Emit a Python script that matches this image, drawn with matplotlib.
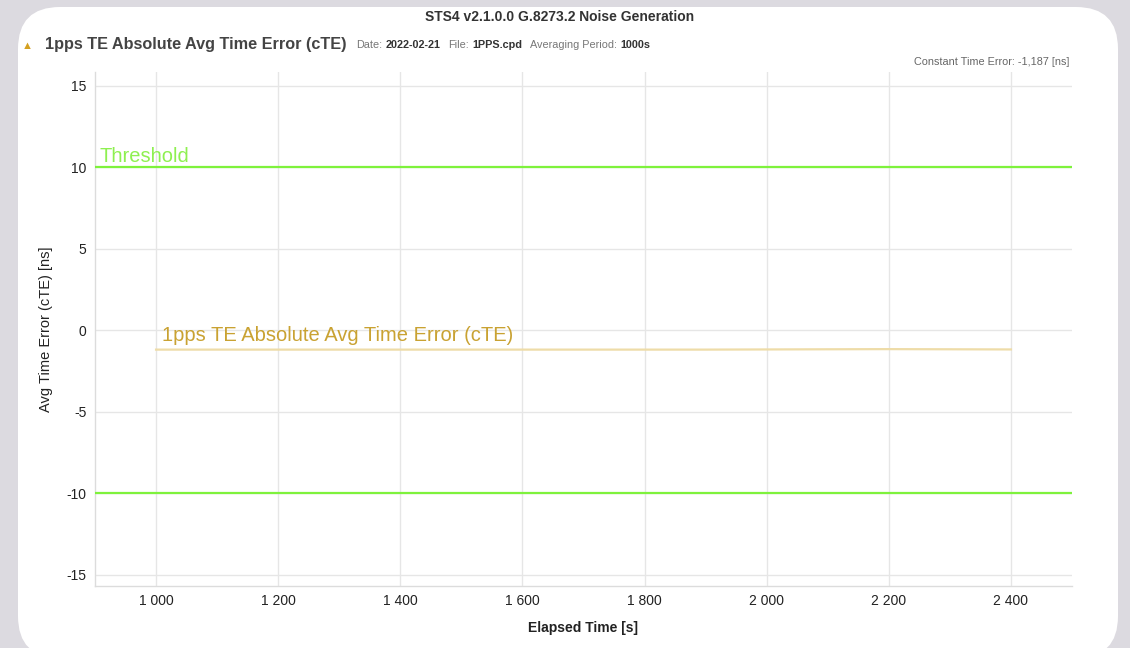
import matplotlib
matplotlib.use("Agg")
import matplotlib.pyplot as plt
from matplotlib.patches import FancyBboxPatch
from matplotlib.ticker import FuncFormatter

plt.rcParams["font.family"] = ["Liberation Sans", "DejaVu Sans"]
plt.rcParams["axes.unicode_minus"] = False

# Averaged time error series (elapsed seconds, ns)
elapsed_s = [1000, 1100, 1200, 1300, 1400, 1500, 1600, 1700, 1800, 1900,
             2000, 2100, 2200, 2300, 2400]
avg_te_ns = [-1.19, -1.19, -1.19, -1.19, -1.19, -1.19, -1.19, -1.19, -1.19,
             -1.19, -1.18, -1.17, -1.16, -1.17, -1.18]
threshold_ns = [10, -10]

chart_title = "STS4 v2.1.0.0 G.8273.2 Noise Generation"
series_name = "1pps TE Absolute Avg Time Error (cTE)"
info_items = [("Date:", "2022-02-21"), ("File:", "1PPS.cpd"),
              ("Averaging Period:", "1000s")]
constant_te = "Constant Time Error: -1,187 [ns]"
x_ticks = [1000, 1200, 1400, 1600, 1800, 2000, 2200, 2400]
y_ticks = [-15, -10, -5, 0, 5, 10, 15]

W, H = 1130, 648
fig = plt.figure(figsize=(W / 100, H / 100), dpi=100)
fig.patch.set_facecolor("#dcdae0")

# white rounded card behind the chart
card = FancyBboxPatch((0.18, -0.10), 11.0, 6.51,
                      boxstyle="round,pad=0,rounding_size=0.42",
                      transform=fig.dpi_scale_trans, facecolor="white",
                      edgecolor="none", zorder=-5)
fig.patches.append(card)

def fx(px):
    return px / W

def fy(py):
    return 1 - py / H

ax = fig.add_axes([fx(95), fy(586), fx(1072) - fx(95), fy(72) - fy(586)])
ax.set_zorder(2)
ax.set_facecolor("none")
ax.set_xlim(900, 2500)
ax.set_ylim(-15.7, 15.85)

ax.set_xticks(x_ticks)
ax.set_yticks(y_ticks)
ax.xaxis.set_major_formatter(FuncFormatter(lambda v, p: f"{int(v):,}".replace(",", " ")))
ax.grid(True, color="#e6e6e6", linewidth=1.0)
ax.set_axisbelow(True)
for s in ["top", "right"]:
    ax.spines[s].set_visible(False)
for s in ["left", "bottom"]:
    ax.spines[s].set_color("#dcdcdc")
    ax.spines[s].set_linewidth(1.0)
ax.tick_params(axis="both", length=0, labelsize=10, colors="#222222")
ax.tick_params(axis="x", pad=6)
ax.tick_params(axis="y", pad=6)

# threshold limits
for t in threshold_ns:
    ax.axhline(t, color="#7ef23c", linewidth=1.6, zorder=3)
ax.annotate("Threshold", xy=(900, threshold_ns[0]), xytext=(3, 1),
            textcoords="offset points", va="bottom", ha="left",
            fontsize=14.5, color="#8ef050", zorder=4)

# averaged time error trace
ax.plot(elapsed_s, avg_te_ns, color="#eedca8", linewidth=1.6, zorder=4)
ax.annotate(series_name, xy=(elapsed_s[0], avg_te_ns[0]), xytext=(4, 3),
            textcoords="offset points", va="bottom", ha="left",
            fontsize=14.5, color="#c9a232", zorder=5)

ax.set_ylabel("Avg Time Error (cTE) [ns]", fontsize=10.5, color="#222222", labelpad=10)
ax.set_xlabel("Elapsed Time [s]", fontsize=10, color="#222222",
              fontweight="bold", labelpad=9)

# header texts
fig.text(fx(560), fy(17), chart_title, ha="center", va="center",
         fontsize=10, fontweight="bold", color="#333333")
fig.text(fx(22), fy(46), "\u25b2", ha="left", va="center", fontsize=8,
         color="#d4a020")
head = fig.text(fx(45), fy(45), series_name, ha="left", va="center",
                fontsize=11.7, fontweight="bold", color="#444444")
prev = head
first = True
for label, value in info_items:
    a = ax.annotate(label, xy=(1, 0.5), xycoords=prev,
                    xytext=(7 if first else 5.5, 0), textcoords="offset points",
                    va="center", ha="left", fontsize=7.8, color="#777777",
                    annotation_clip=False)
    first = False
    b = ax.annotate(value, xy=(1, 0.5), xycoords=a, xytext=(2.5, 0),
                    textcoords="offset points", va="center", ha="left",
                    fontsize=7.8, fontweight="bold", color="#333333",
                    annotation_clip=False)
    prev = b
fig.text(fx(1069), fy(62), constant_te, ha="right", va="center",
         fontsize=7.8, color="#666666")

fig.savefig("out.png", dpi=100, facecolor=fig.get_facecolor())
